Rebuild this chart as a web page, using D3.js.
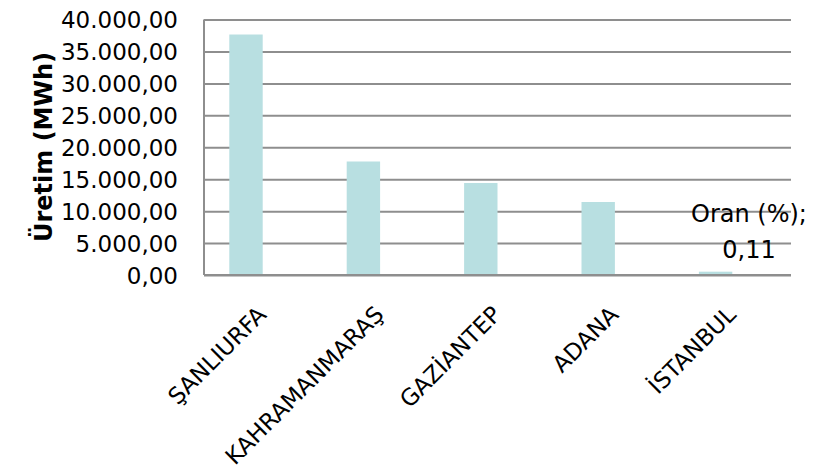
<!DOCTYPE html>
<html>
<head>
<meta charset="utf-8">
<script src="https://cdn.jsdelivr.net/npm/d3@7"></script>
<style>
  html, body { margin: 0; padding: 0; background: #fff; }
  svg { display: block; }
  svg text { font-family: "DejaVu Sans", Verdana, sans-serif; }
</style>
</head>
<body>
<svg id="chart" width="825" height="469"></svg>
<script>
// Production by province (MWh) and share (%) per province
const provinces = ["ŞANLIURFA", "KAHRAMANMARAŞ", "GAZİANTEP", "ADANA", "İSTANBUL"];
const uretim = [37650, 17770, 14400, 11430, 520];
const oran = [null, null, null, null, 0.11];
const seriesNames = ["Üretim (MWh)", "Oran (%)"];
const yTicks = [0, 5000, 10000, 15000, 20000, 25000, 30000, 35000, 40000];
const yTitle = "Üretim (MWh)";

const FONT = "DejaVu Sans";
const trLocale = d3.formatLocale({ decimal: ",", thousands: ".", grouping: [3], currency: ["", ""] });
const fmt = trLocale.format(",.2f");

const svg = d3.select("#chart");
const margin = { left: 204, right: 34, top: 19.5, bottom: 194 };
const W = 825, H = 469;
const plotW = W - margin.left - margin.right;
const plotH = H - margin.top - margin.bottom;

const x0 = d3.scaleBand().domain(provinces).range([0, plotW])
  .paddingInner(0.431).paddingOuter(0.2155);
const x1 = d3.scaleBand().domain(seriesNames).range([0, x0.bandwidth()]);
const y = d3.scaleLinear().domain([0, 40000]).range([plotH, 0]);

const g = svg.append("g").attr("transform", `translate(${margin.left},${margin.top})`);

// horizontal gridlines with value labels
const yAxis = d3.axisLeft(y).tickValues(yTicks).tickFormat(fmt).tickSize(-plotW).tickPadding(26);
const ya = g.append("g").call(yAxis)
  .attr("font-family", FONT).attr("font-size", 23);
ya.select(".domain").remove();
ya.selectAll(".tick line").attr("stroke", "#8e8e8e").attr("stroke-width", 2);
ya.selectAll(".tick text")
  .attr("fill", "#000")
  .attr("font-family", FONT)
  .style("font-size", "23px")
  .attr("dy", "0.36em");

// value axis line
g.append("line").attr("x1", 0).attr("x2", 0).attr("y1", 0).attr("y2", plotH)
  .attr("stroke", "#8e8e8e").attr("stroke-width", 2);

// bars
const groups = g.selectAll("g.cat").data(provinces).join("g")
  .attr("class", "cat")
  .attr("transform", d => `translate(${x0(d)},0)`);

groups.append("rect")
  .attr("x", x1(seriesNames[0]))
  .attr("width", x1.bandwidth())
  .attr("y", (d, i) => y(uretim[i]))
  .attr("height", (d, i) => plotH - y(uretim[i]))
  .attr("fill", "#b8dfe1");

groups.filter((d, i) => oran[i] != null).append("rect")
  .attr("x", x1(seriesNames[1]))
  .attr("width", x1.bandwidth())
  .attr("y", d => y(oran[provinces.indexOf(d)]))
  .attr("height", d => plotH - y(oran[provinces.indexOf(d)]))
  .attr("fill", "#b8dfe1");

// category axis line
g.append("line").attr("x1", 0).attr("x2", plotW).attr("y1", plotH).attr("y2", plotH)
  .attr("stroke", "#8e8e8e").attr("stroke-width", 2);

// rotated category labels
g.selectAll("text.cat-label").data(provinces).join("text")
  .attr("class", "cat-label")
  .attr("text-anchor", "end")
  .attr("fill", "#000")
  .attr("font-family", FONT)
  .style("font-size", "23px")
  .attr("transform", d => `translate(${x0(d) + x0.bandwidth() / 2 + 5},${plotH + 41}) rotate(-45)`)
  .text(d => d);

// data label for the share series
const decFmt = trLocale.format(".2f");
provinces.forEach((p, i) => {
  if (oran[i] == null) return;
  const cx = x0(p) + x1(seriesNames[1]) + x1.bandwidth() / 2;
  const top = y(oran[i]);
  const lbl = g.append("text").attr("text-anchor", "middle").attr("fill", "#000")
    .attr("font-family", FONT)
    .style("font-size", "24px");
  lbl.append("tspan").attr("x", cx).attr("y", top - 53).text(seriesNames[1] + ";");
  lbl.append("tspan").attr("x", cx).attr("y", top - 17).text(decFmt(oran[i]));
});

// value axis title
svg.append("text")
  .attr("text-anchor", "middle")
  .attr("font-weight", "bold")
  .attr("fill", "#000")
  .attr("font-family", FONT)
  .style("font-size", "24px")
  .attr("transform", "translate(52,147) rotate(-90)")
  .text(yTitle);
</script>
</body>
</html>
